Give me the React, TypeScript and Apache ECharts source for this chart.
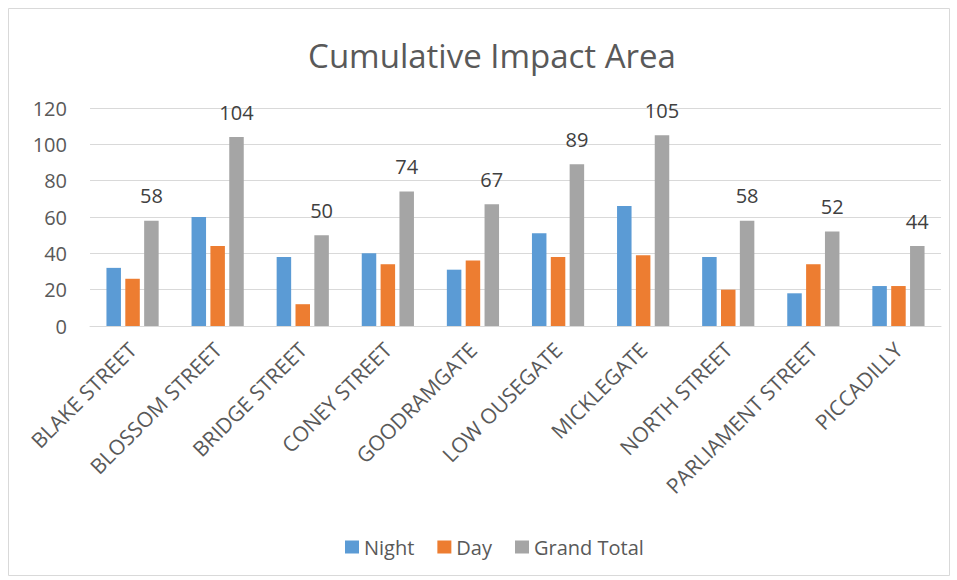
import React, { useEffect, useRef } from "react";
import * as echarts from "echarts";

const categories = [
  "BLAKE STREET",
  "BLOSSOM STREET",
  "BRIDGE STREET",
  "CONEY STREET",
  "GOODRAMGATE",
  "LOW OUSEGATE",
  "MICKLEGATE",
  "NORTH STREET",
  "PARLIAMENT STREET",
  "PICCADILLY",
];
const nightValues = [32, 60, 38, 40, 31, 51, 66, 38, 18, 22];
const dayValues = [26, 44, 12, 34, 36, 38, 39, 20, 34, 22];
const totalValues = [58, 104, 50, 74, 67, 89, 105, 58, 52, 44];
const yTicks = { min: 0, max: 120, interval: 20 };

const FONT = "'Open Sans', sans-serif";

export default function App() {
  const ref = useRef<HTMLDivElement>(null);
  useEffect(() => {
    if (!ref.current) return;
    const chart = echarts.init(ref.current, undefined, { renderer: "svg" });
    chart.setOption({
      animation: false,
      backgroundColor: "#ffffff",
      textStyle: { fontFamily: FONT },
      title: {
        text: "Cumulative Impact Area",
        left: 487,
        top: 34,
        textAlign: "center",
        textStyle: { fontFamily: FONT, fontSize: 33, fontWeight: "normal", color: "#595959" },
      },
      graphic: [
        {
          type: "rect",
          shape: { x: 8.5, y: 8.5, width: 941, height: 567 },
          style: { fill: "none", stroke: "#d9d9d9", lineWidth: 1 },
          silent: true,
        },
      ],
      legend: {
        left: 340,
        top: 532,
        itemWidth: 14,
        itemHeight: 13,
        itemGap: 23,
        icon: "rect",
        textStyle: { fontFamily: FONT, fontSize: 20, color: "#595959" },
        data: ["Night", "Day", "Grand Total"],
      },
      grid: { left: 90, right: 16, top: 108, height: 218, containLabel: false },
      xAxis: {
        type: "category",
        data: categories,
        axisLine: { lineStyle: { color: "#d9d9d9", width: 1 } },
        axisTick: { show: false },
        axisLabel: {
          rotate: 45,
          interval: 0,
          margin: 20,
          fontFamily: FONT,
          fontSize: 21,
          color: "#595959",
        },
      },
      yAxis: {
        type: "value",
        min: yTicks.min,
        max: yTicks.max,
        interval: yTicks.interval,
        axisLine: { show: false },
        axisTick: { show: false },
        splitLine: { lineStyle: { color: "#d9d9d9", width: 1 } },
        axisLabel: { margin: 23, fontFamily: FONT, fontSize: 20, color: "#595959" },
      },
      series: [
        {
          name: "Night",
          type: "bar",
          data: nightValues,
          barWidth: 14.5,
          barGap: "30%",
          itemStyle: { color: "#5b9bd5" },
        },
        {
          name: "Day",
          type: "bar",
          data: dayValues,
          barWidth: 14.5,
          barGap: "30%",
          itemStyle: { color: "#ed7d31" },
        },
        {
          name: "Grand Total",
          type: "bar",
          data: totalValues,
          barWidth: 14.5,
          barGap: "30%",
          itemStyle: { color: "#a5a5a5" },
          label: {
            show: true,
            position: "top",
            distance: 15,
            fontFamily: FONT,
            fontSize: 20,
            color: "#404040",
          },
        },
      ],
    });
    return () => chart.dispose();
  }, []);
  return (
    <div
      ref={ref}
      style={{ position: "absolute", left: 0, top: 0, width: 957, height: 580 }}
    />
  );
}
